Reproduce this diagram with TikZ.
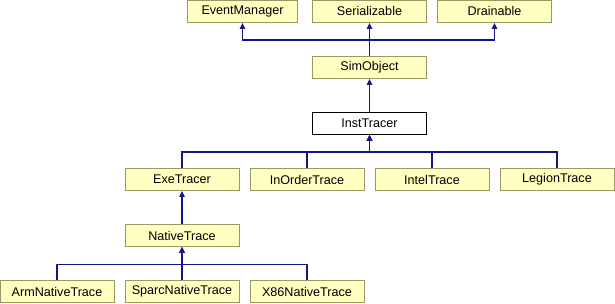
\documentclass[tikz,border=0pt]{standalone}
\usepackage{fontspec}
\setmainfont{Liberation Sans}
\usetikzlibrary{arrows.meta}
\definecolor{boxfill}{RGB}{255,255,192}
\definecolor{boxline}{RGB}{153,153,102}
\definecolor{linkblue}{RGB}{20,20,140}
\begin{document}
\begin{tikzpicture}[x=1pt,y=-1pt,
  cls/.style={draw=boxline,fill=boxfill,line width=0.9pt,minimum width=114pt,minimum height=22pt,
    inner sep=0pt,font=\fontsize{12.6}{14}\selectfont},
  focus/.style={cls,draw=black,fill=white},
  inh/.style={draw=linkblue,line width=1.1pt,-{Triangle[length=6pt,width=5.5pt]}}]
\useasboundingbox (0,0) rectangle (615,304);
% base classes
\node[cls,minimum width=110pt] (em)  at (242.5,11.5) {EventManager};
\node[cls] (ser) at (369.5,11.5) {Serializable};
\node[cls] (dr)  at (494.5,11.5) {Drainable};
\node[cls] (sim) at (369.5,67.5) {SimObject};
\node[focus] (inst) at (369.5,123.5) {InstTracer};
% tracers
\node[cls] (exe) at (182,179.5) {ExeTracer};
\node[cls] (ino) at (307,179.5) {InOrderTrace};
\node[cls] (intel) at (432,179.5) {IntelTrace};
\node[cls] (leg) at (557,179.5) {LegionTrace};
\node[cls] (nat) at (182,235.5) {NativeTrace};
\node[cls] (arm) at (57,291.5) {ArmNativeTrace};
\node[cls] (sparc) at (182,291.5) {SparcNativeTrace};
\node[cls] (x86) at (307,291.5) {X86NativeTrace};
% inheritance links
\draw[inh] (sim.north) -- ++(0,-16) -| (em.south);
\draw[inh] (sim.north) -- (ser.south);
\draw[inh] (sim.north) -- ++(0,-16) -| (dr.south);
\draw[inh] (inst.north) -- (sim.south);
\draw[inh] (exe.north) -- ++(0,-16) -| (inst.south);
\draw[inh] (ino.north) -- ++(0,-16) -| (inst.south);
\draw[inh] (intel.north) -- ++(0,-16) -| (inst.south);
\draw[inh] (leg.north) -- ++(0,-16) -| (inst.south);
\draw[inh] (nat.north) -- (exe.south);
\draw[inh] (arm.north) -- ++(0,-16) -| (nat.south);
\draw[inh] (sparc.north) -- (nat.south);
\draw[inh] (x86.north) -- ++(0,-16) -| (nat.south);
\end{tikzpicture}
\end{document}
